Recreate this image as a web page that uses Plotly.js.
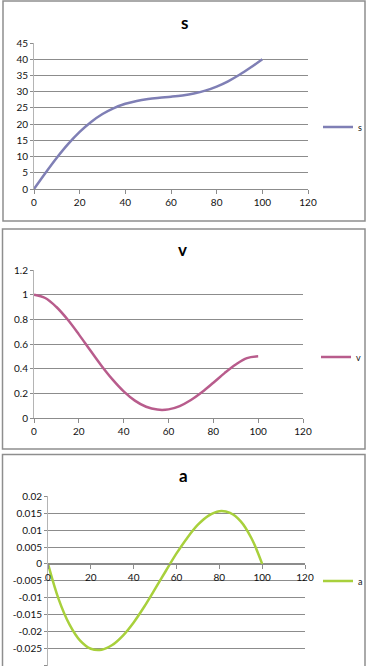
<!DOCTYPE html>
<html>
<head>
<meta charset="utf-8">
<script src="https://cdn.plot.ly/plotly-3.0.1.min.js"></script>
<style>html,body{margin:0;padding:0;background:#fff;}#chart{width:368px;height:666px;}</style>
</head>
<body>
<div id="chart"></div>
<script>
// ---- data ----
const t = [0,5,10,15,20,25,30,35,40,45,50,55,60,65,70,75,80,85,90,95,100];
const sVals = [0,4.95,9.65,13.91,17.60,20.67,23.11,24.95,26.27,27.15,27.72,28.11,28.44,28.85,29.45,30.33,31.57,33.20,35.20,37.51,40.0];
const vVals = [1,0.973,0.900,0.798,0.678,0.551,0.426,0.313,0.216,0.141,0.091,0.068,0.070,0.097,0.146,0.211,0.286,0.364,0.434,0.486,0.5];
const aVals = [0,-0.0105,-0.0179,-0.0227,-0.0251,-0.0254,-0.0240,-0.0212,-0.0173,-0.0126,-0.0074,-0.0021,0.0031,0.0077,0.0116,0.0143,0.0156,0.0151,0.0126,0.0076,0];

const xTicks = [0,20,40,60,80,100,120];
const xTickText = ['0','20','40','60','80','100','120'];
const sTicks = [0,5,10,15,20,25,30,35,40,45];
const sTickText = ['0','5','10','15','20','25','30','35','40','45'];
const vTicks = [0,0.2,0.4,0.6,0.8,1,1.2];
const vTickText = ['0','0.2','0.4','0.6','0.8','1','1.2'];
const aTicks = [-0.03,-0.025,-0.02,-0.015,-0.01,-0.005,0,0.005,0.01,0.015,0.02];
const aTickText = ['-0.03','-0.025','-0.02','-0.015','-0.01','-0.005','0','0.005','0.01','0.015','0.02'];

const W = 368, H = 666;
const px = v => v / W;
const py = v => 1 - v / H;

const FONT = 'Lato, "Open Sans", "Liberation Sans", sans-serif';
const GRID = '#8c8c8c';

function xax(domain, extra) {
  return Object.assign({
    domain: domain, range: [0,120], tickmode: 'array', tickvals: xTicks, ticktext: xTickText,
    showgrid: false, zeroline: false, showline: true, linecolor: GRID, linewidth: 1,
    ticks: 'outside', ticklen: 4, tickcolor: GRID, tickfont: {size: 10, color: '#111'},
    fixedrange: true
  }, extra || {});
}
function yax(domain, range, vals, text, extra) {
  return Object.assign({
    domain: domain, range: range, tickmode: 'array', tickvals: vals, ticktext: text,
    showgrid: true, gridcolor: GRID, gridwidth: 1, zeroline: false,
    showline: true, linecolor: '#b4b4b4', linewidth: 1,
    ticks: 'outside', ticklen: 3, tickcolor: GRID, tickfont: {size: 10, color: '#111'},
    fixedrange: true
  }, extra || {});
}

const traces = [
  {x: t, y: sVals, name: 's', type: 'scatter', mode: 'lines', line: {color: '#7f7fb5', width: 2.5, shape: 'spline'}, xaxis: 'x', yaxis: 'y', legend: 'legend'},
  {x: t, y: vVals, name: 'v', type: 'scatter', mode: 'lines', line: {color: '#b85c8c', width: 2.5, shape: 'spline'}, xaxis: 'x2', yaxis: 'y2', legend: 'legend2'},
  {x: t, y: aVals, name: 'a', type: 'scatter', mode: 'lines', line: {color: '#a8d03c', width: 2.5, shape: 'spline'}, xaxis: 'x3', yaxis: 'y3', legend: 'legend3'}
];

const legBase = {xanchor: 'left', yanchor: 'middle', bgcolor: 'rgba(0,0,0,0)', borderwidth: 0, font: {size: 9, family: FONT, color: '#111'}, itemwidth: 30};

const layout = {
  width: W, height: H,
  margin: {l: 0, r: 0, t: 0, b: 0},
  paper_bgcolor: '#ffffff', plot_bgcolor: '#ffffff',
  font: {family: FONT, color: '#111'},
  showlegend: true,
  xaxis: xax([px(34), px(308)], {anchor: 'y'}),
  yaxis: yax([py(189), py(43)], [0,45], sTicks, sTickText, {anchor: 'x'}),
  xaxis2: xax([px(34), px(303)], {anchor: 'y2'}),
  yaxis2: yax([py(418), py(270)], [0,1.2], vTicks, vTickText, {anchor: 'x2'}),
  xaxis3: xax([px(48), px(305)], {anchor: 'free', position: py(564)}),
  yaxis3: yax([py(665.5), py(496.3)], [-0.03005,0.02], aTicks, aTickText, {anchor: 'x3'}),
  legend: Object.assign({}, legBase, {x: px(318), y: py(127)}),
  legend2: Object.assign({}, legBase, {x: px(316), y: py(357)}),
  legend3: Object.assign({}, legBase, {x: px(318), y: py(581)}),
  annotations: [
    {text: '<b>s</b>', xref: 'paper', yref: 'paper', x: px(184), y: py(22), showarrow: false, font: {size: 17, family: FONT, color: '#000'}, xanchor: 'center', yanchor: 'middle'},
    {text: '<b>v</b>', xref: 'paper', yref: 'paper', x: px(182), y: py(250), showarrow: false, font: {size: 17, family: FONT, color: '#000'}, xanchor: 'center', yanchor: 'middle'},
    {text: '<b>a</b>', xref: 'paper', yref: 'paper', x: px(183), y: py(475), showarrow: false, font: {size: 17, family: FONT, color: '#000'}, xanchor: 'center', yanchor: 'middle'}
  ],
  shapes: [
    {type: 'rect', xref: 'paper', yref: 'paper', x0: px(3), x1: px(365), y0: py(221), y1: py(1), line: {color: '#8e8e8e', width: 1.5}},
    {type: 'rect', xref: 'paper', yref: 'paper', x0: px(2.5), x1: px(365), y0: py(449), y1: py(229), line: {color: '#8e8e8e', width: 1.5}},
    {type: 'rect', xref: 'paper', yref: 'paper', x0: px(2.5), x1: px(365), y0: py(672), y1: py(454.5), line: {color: '#8e8e8e', width: 1.5}}
  ]
};

Plotly.newPlot('chart', traces, layout, {displayModeBar: false, staticPlot: true});
</script>
</body>
</html>
